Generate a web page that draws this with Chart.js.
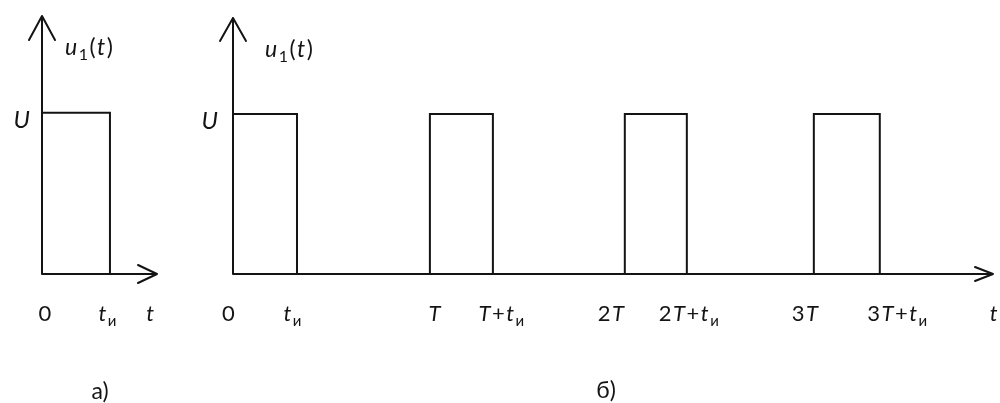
<!DOCTYPE html>
<html>
<head>
<meta charset="utf-8">
<script src="https://cdn.jsdelivr.net/npm/chart.js@4"></script>
<style>
  html, body { margin: 0; padding: 0; background: #fff; }
  #wrap { position: relative; width: 1000px; height: 403px; overflow: hidden; }
  canvas { position: absolute; top: 0; }
  .cap { position: absolute; font: 23px Lato, "Open Sans", sans-serif; color: #141414; transform: translate(-50%, -50%); }
</style>
</head>
<body>
<div id="wrap">
  <canvas id="single" width="190" height="403" style="left:0"></canvas>
  <canvas id="train" width="810" height="403" style="left:190px"></canvas>
  <div class="cap" style="left:100px; top:390px">а)</div>
  <div class="cap" style="left:606px; top:389px">б)</div>
</div>
<script>
// Amplitude of the pulses
const amplitude = 1;

// а) single rectangular pulse: rise and fall times
const singleStarts = [0];
const singleEnds = [0.325];
const singleTickPos = [0.014, 0.313, 0.517];
const singleTickText = ['0', 't_и', 't'];

// б) periodic pulse train (period T ≈ 1, width tи ≈ 0.32)
const trainStarts = [0, 1.0, 1.99, 2.95];
const trainEnds = [0.325, 1.32, 2.305, 3.285];
const trainTickPos = [-0.023, 0.302, 1.023, 1.363, 1.919, 2.315, 2.904, 3.373, 3.863];
const trainTickText = ['0', 't_и', 'T', 'T+t_и', '2T', '2T+t_и', '3T', '3T+t_и', 't'];

const INK = '#141414';
const FONT = 'Lato, "Open Sans", sans-serif';

// Turn rise/fall times into the outline of the pulse waveform
function waveform(starts, ends) {
  const pts = [];
  for (let i = 0; i < starts.length; i++) {
    pts.push({x: starts[i], y: 0});
    pts.push({x: starts[i], y: amplitude});
    pts.push({x: ends[i], y: amplitude});
    pts.push({x: ends[i], y: 0});
  }
  return pts;
}

// Draw a label where Latin letters are italic and "_x" is a subscript
function drawRich(ctx, str, x, y, align, size) {
  const segs = [];
  for (let i = 0; i < str.length; i++) {
    let ch = str[i], sub = false;
    if (ch === '_') { sub = true; ch = str[++i]; }
    const italic = /[A-Za-z]/.test(ch);
    segs.push({ch, sub, italic});
  }
  const gap = 1.5;
  let total = 0;
  segs.forEach(s => {
    const sz = s.sub ? Math.round(size * 0.68) : size;
    s.font = (s.italic ? 'italic ' : '') + sz + 'px ' + FONT;
    ctx.font = s.font;
    s.w = ctx.measureText(s.ch).width;
    total += s.w + gap;
  });
  total -= gap;
  let cx = align === 'center' ? x - total / 2 : align === 'right' ? x - total : x;
  ctx.textBaseline = 'alphabetic';
  ctx.textAlign = 'left';
  ctx.fillStyle = INK;
  segs.forEach(s => {
    ctx.font = s.font;
    ctx.fillText(s.ch, cx, y + (s.sub ? size * 0.22 : 0));
    cx += s.w + gap;
  });
}

// Axes with open arrow heads plus the text annotations
const diagramAxes = {
  id: 'diagramAxes',
  afterDatasetsDraw(chart, args, o) {
    const {ctx, chartArea: a, scales: {x, y}} = chart;
    const x0 = x.getPixelForValue(0);
    const y0 = y.getPixelForValue(0);
    ctx.save();
    ctx.strokeStyle = INK;
    ctx.lineWidth = 2;
    ctx.lineCap = 'round';
    ctx.lineJoin = 'round';
    // vertical axis
    ctx.beginPath();
    ctx.moveTo(x0, y0); ctx.lineTo(x0, a.top);
    ctx.moveTo(x0 - o.yHead[1], a.top + o.yHead[0]); ctx.lineTo(x0, a.top); ctx.lineTo(x0 + o.yHead[1], a.top + o.yHead[0]);
    // horizontal axis
    ctx.moveTo(x0, y0); ctx.lineTo(a.right, y0);
    ctx.moveTo(a.right - o.xHead[0], y0 - o.xHead[1]); ctx.lineTo(a.right, y0); ctx.lineTo(a.right - o.xHead[0], y0 + o.xHead[1]);
    ctx.stroke();

    // time-axis labels
    o.tickPos.forEach((v, i) => {
      drawRich(ctx, o.tickText[i], x.getPixelForValue(v), y0 + 47, 'center', 22);
    });
    // amplitude label
    drawRich(ctx, 'U', x0 - o.uGap, y.getPixelForValue(amplitude) + 15, 'right', 24);
    // signal name
    drawRich(ctx, 'u_1(t)', x0 + o.nameGap, a.top + 39, 'left', 23);
    ctx.restore();
  }
};

function makeChart(id, starts, ends, xMax, pad, extra) {
  return new Chart(document.getElementById(id), {
    type: 'line',
    data: {
      datasets: [{
        data: waveform(starts, ends),
        borderColor: INK,
        borderWidth: 2,
        pointRadius: 0,
        tension: 0,
        fill: false
      }]
    },
    options: {
      responsive: false,
      animation: false,
      devicePixelRatio: 1,
      layout: {padding: pad},
      plugins: {
        legend: {display: false},
        tooltip: {enabled: false},
        diagramAxes: extra
      },
      scales: {
        x: {type: 'linear', display: false, min: 0, max: xMax},
        y: {type: 'linear', display: false, min: 0, max: 1.6}
      }
    },
    plugins: [diagramAxes]
  });
}

makeChart('single', singleStarts, singleEnds, 0.55,
  {left: 42, right: 33, top: 16, bottom: 129},
  {tickPos: singleTickPos, tickText: singleTickText, yHead: [24, 13], xHead: [19, 9], uGap: 12, nameGap: 23});

makeChart('train', trainStarts, trainEnds, 3.86,
  {left: 43, right: 7, top: 18, bottom: 129},
  {tickPos: trainTickPos, tickText: trainTickText, yHead: [23, 13], xHead: [18, 7], uGap: 15, nameGap: 32});
</script>
</body>
</html>
